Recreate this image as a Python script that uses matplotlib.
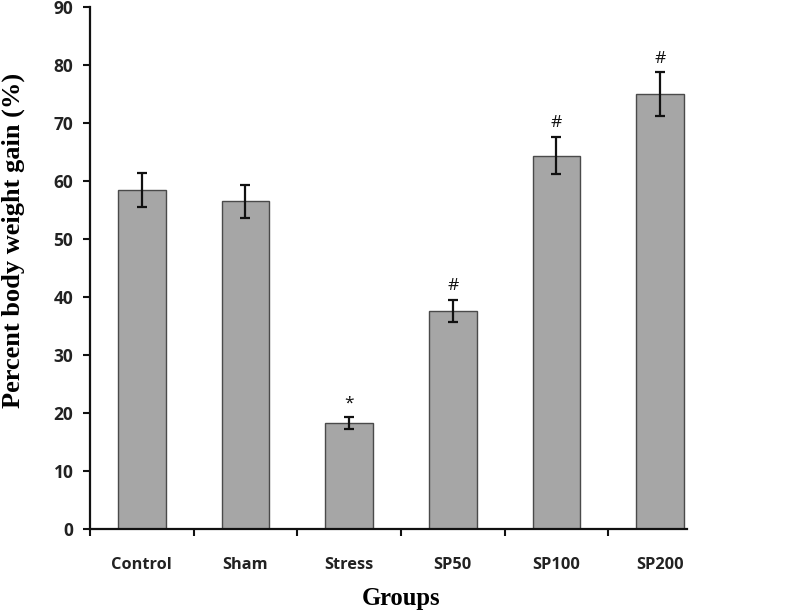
import matplotlib
matplotlib.use("Agg")
import matplotlib.pyplot as plt
import numpy as np

groups = ["Control", "Sham", "Stress", "SP50", "SP100", "SP200"]
means = [58.5, 56.6, 18.3, 37.6, 64.4, 75.0]
errors = [3.0, 2.85, 1.0, 1.9, 3.2, 3.8]
marks = ["", "", "*", "#", "#", "#"]
y_ticks = [0, 10, 20, 30, 40, 50, 60, 70, 80, 90]

fig = plt.figure(figsize=(7.98, 6.14), dpi=100)
ax = fig.add_axes([0.1128, 0.138, 0.861 - 0.1128, 0.988 - 0.138])

x = np.arange(len(groups))
ax.bar(x, means, width=0.46, color="#a6a6a6", edgecolor="#4a4a4a", linewidth=1.0, zorder=2)
ax.errorbar(x, means, yerr=errors, fmt="none", ecolor="#111111", elinewidth=1.6,
            capsize=3.5, capthick=1.6, zorder=3)

for xi, m, e, s in zip(x, means, errors, marks):
    if s:
        ax.text(xi, m + e + 1.0, s, ha="center", va="bottom",
                fontsize=12.5, family="Open Sans", color="#111111")

ax.set_ylim(0, 90)
ax.set_xlim(-0.5, 5.26)
ax.set_yticks(y_ticks)
ax.set_yticklabels([str(v) for v in y_ticks], fontsize=12.5, fontweight="bold",
                   family="Open Sans", color="#222222")

ax.set_xticks(np.arange(-0.5, len(groups) - 0.5, 1.0))
ax.set_xticklabels([])
ax.set_xticks(x, minor=True)
ax.set_xticklabels(groups, minor=True, fontsize=11.8, fontweight="bold",
                   family="Open Sans", color="#222222")
ax.tick_params(axis="x", which="minor", length=0, pad=20)
ax.tick_params(axis="x", which="major", length=5, width=1.5, direction="out", color="#111111")
ax.tick_params(axis="y", length=5, width=1.5, direction="out", pad=7, color="#111111")

for side in ["top", "right"]:
    ax.spines[side].set_visible(False)
for side in ["left", "bottom"]:
    ax.spines[side].set_linewidth(1.6)
    ax.spines[side].set_color("#111111")

fig.text(13 / 798, 1 - 240 / 614, "Percent body weight gain (%)", rotation=90,
         ha="center", va="center", fontsize=19, fontweight="bold", family="Liberation Serif")
fig.text(401 / 798, 1 - 598 / 614, "Groups", ha="center", va="center",
         fontsize=17.7, fontweight="bold", family="Liberation Serif")

fig.savefig("out.png", dpi=100)
